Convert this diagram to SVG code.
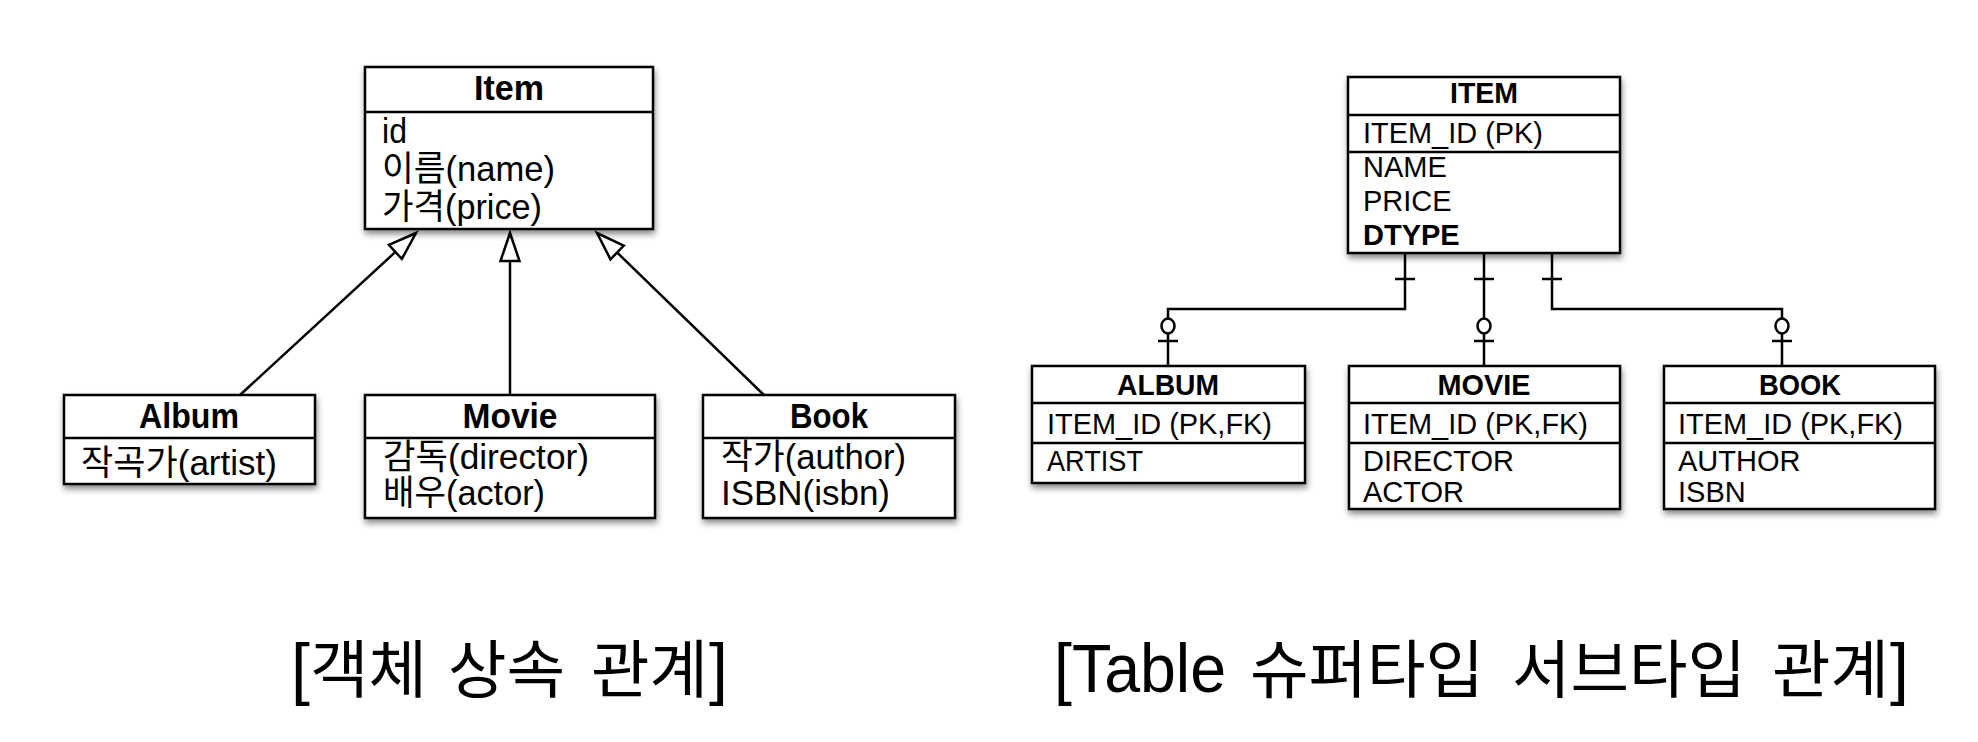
<svg xmlns="http://www.w3.org/2000/svg" width="1978" height="742" viewBox="0 0 1978 742">
<defs>
<style>
.box{fill:#fff;stroke:#000;stroke-width:2.5;filter:url(#sh)}
.dv{stroke:#000;stroke-width:2.5}
.t{font-family:"Liberation Sans","Noto Sans CJK KR",sans-serif;fill:#000}
.ti{font-weight:bold;font-size:35px;text-anchor:middle}
.bd{font-size:35px}
.rt{font-weight:bold;font-size:30px;text-anchor:middle}
.rb{font-size:29px}
.capl{font-size:68px}
.capk{font-family:"Noto Sans CJK KR","Liberation Sans",sans-serif;font-size:63px}
.conn{fill:none;stroke:#000;stroke-width:2.5}
.mk{fill:#fff;stroke:#000;stroke-width:2.5}
</style>
<filter id="sh" x="-10%" y="-10%" width="125%" height="130%">
<feDropShadow dx="1" dy="4" stdDeviation="3" flood-color="#000" flood-opacity="0.45"/>
</filter>
<marker id="tri" markerUnits="userSpaceOnUse" markerWidth="36" markerHeight="28" viewBox="-4 -4 36 28" refX="28" refY="9.5" orient="auto" overflow="visible">
<path d="M0,0 L28,9.5 L0,19 Z" fill="#fff" stroke="#000" stroke-width="2.5"/>
</marker>
</defs>
<rect width="1978" height="742" fill="#fff"/>

<g id="connectors">
<line class="conn" x1="240" y1="395" x2="416" y2="233" marker-end="url(#tri)"/>
<line class="conn" x1="510" y1="395" x2="510" y2="233" marker-end="url(#tri)"/>
<line class="conn" x1="764" y1="395" x2="597" y2="233" marker-end="url(#tri)"/>
<path class="conn" d="M1405,253 V309 H1168 V366"/>
<path class="conn" d="M1484,253 V366"/>
<path class="conn" d="M1552,253 V309 H1782 V366"/>
<g class="conn">
<line x1="1395" y1="279" x2="1415" y2="279"/>
<line x1="1474" y1="279" x2="1494" y2="279"/>
<line x1="1542" y1="279" x2="1562" y2="279"/>
<line x1="1158" y1="341" x2="1178" y2="341"/>
<line x1="1474" y1="341" x2="1494" y2="341"/>
<line x1="1772" y1="341" x2="1792" y2="341"/>
</g>
<ellipse class="mk" cx="1168" cy="326" rx="6.5" ry="7.5"/>
<ellipse class="mk" cx="1484" cy="326" rx="6.5" ry="7.5"/>
<ellipse class="mk" cx="1782" cy="326" rx="6.5" ry="7.5"/>
</g>

<g id="item">
<rect class="box" x="365" y="67" width="288" height="162"/>
<line class="dv" x1="365" y1="112" x2="653" y2="112"/>
<text class="t ti" x="509" y="100" textLength="70" lengthAdjust="spacingAndGlyphs">Item</text>
<text class="t bd" x="382" y="143" textLength="25" lengthAdjust="spacingAndGlyphs">id</text>
<text class="t bd" x="382" y="181" textLength="173" lengthAdjust="spacingAndGlyphs">이름(name)</text>
<text class="t bd" x="382" y="219" textLength="160" lengthAdjust="spacingAndGlyphs">가격(price)</text>
</g>

<g id="album">
<rect class="box" x="64" y="395" width="251" height="89"/>
<line class="dv" x1="64" y1="438" x2="315" y2="438"/>
<text class="t ti" x="189" y="428" textLength="100" lengthAdjust="spacingAndGlyphs">Album</text>
<text class="t bd" x="81" y="475" textLength="196" lengthAdjust="spacingAndGlyphs">작곡가(artist)</text>
</g>

<g id="movie">
<rect class="box" x="365" y="395" width="290" height="123"/>
<line class="dv" x1="365" y1="438" x2="655" y2="438"/>
<text class="t ti" x="510" y="428" textLength="95" lengthAdjust="spacingAndGlyphs">Movie</text>
<text class="t bd" x="383" y="469" textLength="206" lengthAdjust="spacingAndGlyphs">감독(director)</text>
<text class="t bd" x="383" y="505" textLength="162" lengthAdjust="spacingAndGlyphs">배우(actor)</text>
</g>

<g id="book">
<rect class="box" x="703" y="395" width="252" height="123"/>
<line class="dv" x1="703" y1="438" x2="955" y2="438"/>
<text class="t ti" x="829" y="428" textLength="78" lengthAdjust="spacingAndGlyphs">Book</text>
<text class="t bd" x="721" y="469" textLength="185" lengthAdjust="spacingAndGlyphs">작가(author)</text>
<text class="t bd" x="721" y="505" textLength="169" lengthAdjust="spacingAndGlyphs">ISBN(isbn)</text>
</g>

<g id="ITEM">
<rect class="box" x="1348" y="77" width="272" height="176"/>
<line class="dv" x1="1348" y1="115" x2="1620" y2="115"/>
<line class="dv" x1="1348" y1="152" x2="1620" y2="152"/>
<text class="t rt" x="1484" y="103" textLength="68" lengthAdjust="spacingAndGlyphs">ITEM</text>
<text class="t rb" x="1363" y="143" textLength="180" lengthAdjust="spacingAndGlyphs">ITEM_ID (PK)</text>
<text class="t rb" x="1363" y="177">NAME</text>
<text class="t rb" x="1363" y="211">PRICE</text>
<text class="t rb" x="1363" y="245" font-weight="bold">DTYPE</text>
</g>

<g id="ALBUM">
<rect class="box" x="1032" y="366" width="273" height="117"/>
<line class="dv" x1="1032" y1="403" x2="1305" y2="403"/>
<line class="dv" x1="1032" y1="443" x2="1305" y2="443"/>
<text class="t rt" x="1168" y="395" textLength="102" lengthAdjust="spacingAndGlyphs">ALBUM</text>
<text class="t rb" x="1047" y="434" textLength="225" lengthAdjust="spacingAndGlyphs">ITEM_ID (PK,FK)</text>
<text class="t rb" x="1047" y="471" textLength="96" lengthAdjust="spacingAndGlyphs">ARTIST</text>
</g>

<g id="MOVIE">
<rect class="box" x="1349" y="366" width="271" height="143"/>
<line class="dv" x1="1349" y1="403" x2="1620" y2="403"/>
<line class="dv" x1="1349" y1="443" x2="1620" y2="443"/>
<text class="t rt" x="1484" y="395" textLength="93" lengthAdjust="spacingAndGlyphs">MOVIE</text>
<text class="t rb" x="1363" y="434" textLength="225" lengthAdjust="spacingAndGlyphs">ITEM_ID (PK,FK)</text>
<text class="t rb" x="1363" y="471">DIRECTOR</text>
<text class="t rb" x="1363" y="502">ACTOR</text>
</g>

<g id="BOOK">
<rect class="box" x="1664" y="366" width="271" height="143"/>
<line class="dv" x1="1664" y1="403" x2="1935" y2="403"/>
<line class="dv" x1="1664" y1="443" x2="1935" y2="443"/>
<text class="t rt" x="1800" y="395" textLength="82" lengthAdjust="spacingAndGlyphs">BOOK</text>
<text class="t rb" x="1678" y="434" textLength="225" lengthAdjust="spacingAndGlyphs">ITEM_ID (PK,FK)</text>
<text class="t rb" x="1678" y="471">AUTHOR</text>
<text class="t rb" x="1678" y="502">ISBN</text>
</g>

<g id="caption-left">
<text class="t capl" x="291" y="692">[</text>
<text class="t capk" x="310" y="692" textLength="117" lengthAdjust="spacingAndGlyphs">객체</text>
<text class="t capk" x="448" y="692" textLength="117" lengthAdjust="spacingAndGlyphs">상속</text>
<text class="t capk" x="591" y="692" textLength="117" lengthAdjust="spacingAndGlyphs">관계</text>
<text class="t capl" x="709" y="692">]</text>
</g>
<g id="caption-right">
<text class="t capl" x="1054" y="692" textLength="172" lengthAdjust="spacingAndGlyphs">[Table</text>
<text class="t capk" x="1250" y="692" textLength="234" lengthAdjust="spacingAndGlyphs">슈퍼타입</text>
<text class="t capk" x="1512" y="692" textLength="234" lengthAdjust="spacingAndGlyphs">서브타입</text>
<text class="t capk" x="1772" y="692" textLength="117" lengthAdjust="spacingAndGlyphs">관계</text>
<text class="t capl" x="1890" y="692">]</text>
</g>
</svg>
